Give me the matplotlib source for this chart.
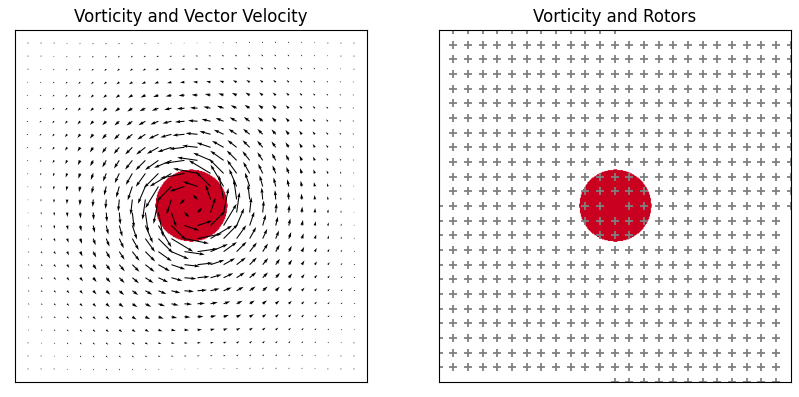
import numpy as np
import matplotlib
matplotlib.use('Agg')
import matplotlib.pyplot as plt
from matplotlib.colors import LinearSegmentedColormap

# vortex patch (unit periodic box)
vortex_center = [0.5, 0.5]
vortex_radius = 0.102
# longest arrow on the rim, in axes fractions
max_arrow_len = 0.072

# quiver grid: interior nodes of a 27 cell grid
n_quiver = 27
# rotors: 24 x 24 lattice, listed row by row starting half way in the bottom row
n_rotor = 24
rotor_start = 12
rotor_shift_from = n_rotor * n_rotor // 2

titles = ['Vorticity and Vector Velocity', 'Vorticity and Rotors']


# ****************************************************************************************************************
# vorticity of the patch on a fine grid and the velocity it induces (periodic box)
# ****************************************************************************************************************
def vortex_field(n_fine):
    s = np.arange(n_fine) / n_fine
    X, Y = np.meshgrid(s, s)
    w = ((X - vortex_center[0]) ** 2 + (Y - vortex_center[1]) ** 2 < vortex_radius ** 2).astype(float)

    k = np.fft.fftfreq(n_fine, d=1.0 / n_fine) * 2 * np.pi
    KX, KY = np.meshgrid(k, k)
    k2 = KX ** 2 + KY ** 2
    k2[0, 0] = 1.0
    w_hat = np.fft.fft2(w)
    psi_hat = w_hat / k2
    psi_hat[0, 0] = 0.0
    u = np.real(np.fft.ifft2(1j * KY * psi_hat))
    v = np.real(np.fft.ifft2(-1j * KX * psi_hat))
    return w, u, v


def rotor_positions():
    s = np.arange(n_rotor * n_rotor) + rotor_start
    row = s // n_rotor
    col = s % n_rotor + (s >= rotor_shift_from + rotor_start)
    return col / n_rotor, row / n_rotor


if __name__ == '__main__':
    n_fine = n_quiver * 16
    w, u, v = vortex_field(n_fine)

    idx = np.arange(1, n_quiver) * (n_fine // n_quiver)
    xq = idx / n_fine
    XQ, YQ = np.meshgrid(xq, xq)
    UQ = u[np.ix_(idx, idx)]
    VQ = v[np.ix_(idx, idx)]
    scale = np.hypot(UQ, VQ).max() / max_arrow_len

    cmap = LinearSegmentedColormap.from_list('vort', ['white', '#fdbf7a', '#c9001f'])

    fig = plt.figure(figsize=(7.99, 3.97), dpi=100)
    ax1 = fig.add_axes([15 / 799, 15 / 397, 352 / 799, 352 / 397])
    ax2 = fig.add_axes([438.5 / 799, 15 / 397, 352 / 799, 352 / 397])

    for ax, title in zip([ax1, ax2], titles):
        ax.imshow(w, origin='lower', extent=[0, 1, 0, 1], cmap=cmap, vmin=0, vmax=1,
                  interpolation='antialiased', zorder=0)
        ax.set_xlim(0, 1)
        ax.set_ylim(0, 1)
        ax.set_xticks([])
        ax.set_yticks([])
        ax.set_title(title, fontsize=12)

    ax1.quiver(XQ, YQ, UQ, VQ, angles='xy', scale_units='xy', scale=scale,
               color='black', width=0.003, zorder=2)

    xr, yr = rotor_positions()
    ax2.plot(xr, yr, linestyle='none', marker='+', color='gray',
             markersize=6, markeredgewidth=1.3, zorder=2)

    fig.savefig('out.png', dpi=100)
